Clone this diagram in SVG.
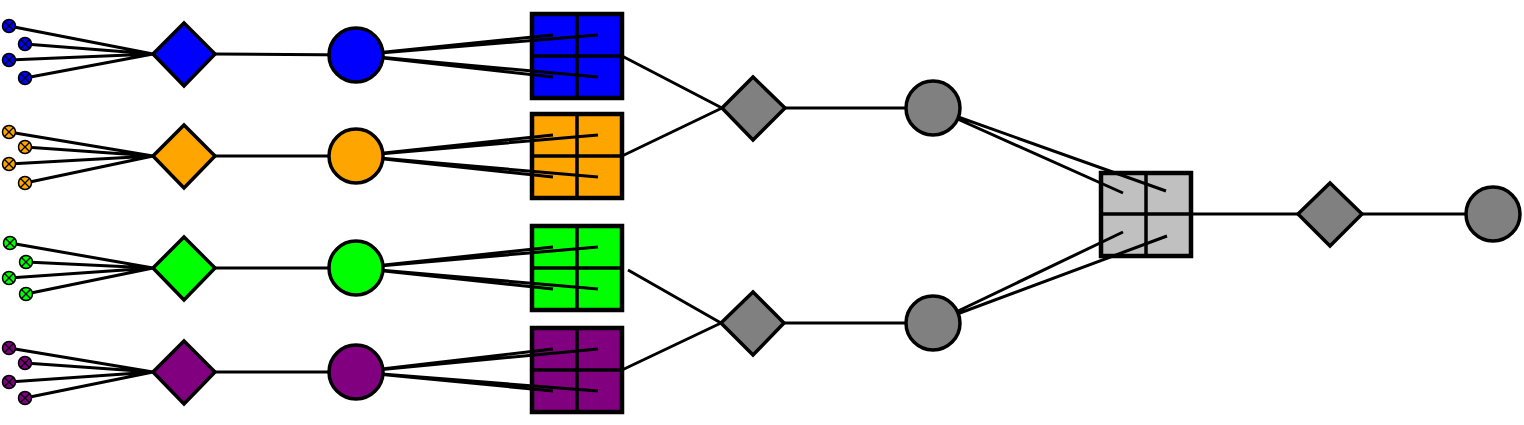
<svg xmlns="http://www.w3.org/2000/svg" width="1524" height="425" viewBox="0 0 1524 425">
<style>
.e{stroke:#000;stroke-width:3;fill:none}
.n{stroke:#000;stroke-width:3.5}
.sq{stroke:#000;stroke-width:4.5}
.dv{stroke:#000;stroke-width:3.5}
.p{stroke:#000;stroke-width:1.5}
.x{stroke:#000;stroke-width:1.3}
</style>
<defs>
<g id="port"><circle r="6.5" class="p"/><path class="x" d="M-4.5,-4.5L4.5,4.5M-4.5,4.5L4.5,-4.5"/></g>
</defs>
<rect width="1524" height="425" fill="#fff"/>
<g id="sq-blue"><rect x="532" y="14" width="90" height="84" fill="#0000ff" class="sq"/><path class="dv" d="M577,14V98M532,56H622"/></g>
<g id="sq-orange"><rect x="532" y="114" width="90" height="84" fill="#ffa500" class="sq"/><path class="dv" d="M577,114V198M532,156H622"/></g>
<g id="sq-green"><rect x="532" y="226" width="90" height="84" fill="#00ff00" class="sq"/><path class="dv" d="M577,226V310M532,268H622"/></g>
<g id="sq-purple"><rect x="532" y="328" width="90" height="84" fill="#800080" class="sq"/><path class="dv" d="M577,328V412M532,370H622"/></g>
<g id="sq-gray"><rect x="1101" y="173" width="90" height="83" fill="#c0c0c0" class="sq"/><path class="dv" d="M1146,173V256M1101,214H1191"/></g>
<g id="connectors">
<path class="e" d="M9,26L153,54M25,44L153,54M9,60L153,54M25,78L153,54"/>
<path class="e" d="M9,132L153,156M25,147L153,156M9,164L153,156M25,183L153,156"/>
<path class="e" d="M10,243L153,268M26,262L153,268M9,278L153,268M26,294L153,268"/>
<path class="e" d="M9,348L153,372M25,363L153,372M9,382L153,372M25,398L153,372"/>
<path class="e" d="M215,54L356,55M215,156L356,156M215,268L356,268M215,372L356,372"/>
<path class="e" d="M356,55L553,35M356,55L598,35M356,55L553,77M356,55L598,77"/>
<path class="e" d="M356,156L553,135M356,156L598,135M356,156L553,177M356,156L598,177"/>
<path class="e" d="M356,268L553,247M356,268L598,247M356,268L553,289M356,268L598,289"/>
<path class="e" d="M356,372L553,349M356,372L598,349M356,372L553,391M356,372L598,391"/>
<path class="e" d="M622,56L722,108M622,156L722,108M628,270L721,323M622,370L721,323"/>
<path class="e" d="M785,108L933,108M784,323L933,323"/>
<path class="e" d="M933,108L1123,193M933,108L1166,191M933,323L1123,232M933,323L1167,236"/>
<path class="e" d="M1191,214L1298,214M1362,214L1493,214"/>
</g>
<g id="ports-blue" fill="#0000ff"><use href="#port" x="9" y="26"/><use href="#port" x="25" y="44"/><use href="#port" x="9" y="60"/><use href="#port" x="25" y="78"/></g>
<g id="ports-orange" fill="#ffa500"><use href="#port" x="9" y="132"/><use href="#port" x="25" y="147"/><use href="#port" x="9" y="164"/><use href="#port" x="25" y="183"/></g>
<g id="ports-green" fill="#00ff00"><use href="#port" x="10" y="243"/><use href="#port" x="26" y="262"/><use href="#port" x="9" y="278"/><use href="#port" x="26" y="294"/></g>
<g id="ports-purple" fill="#800080"><use href="#port" x="9" y="348"/><use href="#port" x="25" y="363"/><use href="#port" x="9" y="382"/><use href="#port" x="25" y="398"/></g>
<g id="d-blue"><path class="n" fill="#0000ff" d="M153,54L184,23L215,54L184,86Z"/></g>
<g id="d-orange"><path class="n" fill="#ffa500" d="M153,156L184,125L215,156L184,188Z"/></g>
<g id="d-green"><path class="n" fill="#00ff00" d="M153,268L184,237L215,268L184,300Z"/></g>
<g id="d-purple"><path class="n" fill="#800080" d="M153,372L184,341L215,372L184,404Z"/></g>
<g id="c-blue"><circle cx="356" cy="55" r="27" class="n" fill="#0000ff"/></g>
<g id="c-orange"><circle cx="356" cy="156" r="27" class="n" fill="#ffa500"/></g>
<g id="c-green"><circle cx="356" cy="268" r="27" class="n" fill="#00ff00"/></g>
<g id="c-purple"><circle cx="356" cy="372" r="27" class="n" fill="#800080"/></g>
<g id="d-gray1"><path class="n" fill="#808080" d="M722,108L753,77L785,108L753,140Z"/></g>
<g id="d-gray2"><path class="n" fill="#808080" d="M721,323L753,292L784,323L753,355Z"/></g>
<g id="c-gray1"><circle cx="933" cy="108" r="27" class="n" fill="#808080"/></g>
<g id="c-gray2"><circle cx="933" cy="323" r="27" class="n" fill="#808080"/></g>
<g id="d-gray3"><path class="n" fill="#808080" d="M1298,214L1330,183L1362,214L1330,246Z"/></g>
<g id="c-gray3"><circle cx="1493" cy="214" r="27" class="n" fill="#808080"/></g>
</svg>
